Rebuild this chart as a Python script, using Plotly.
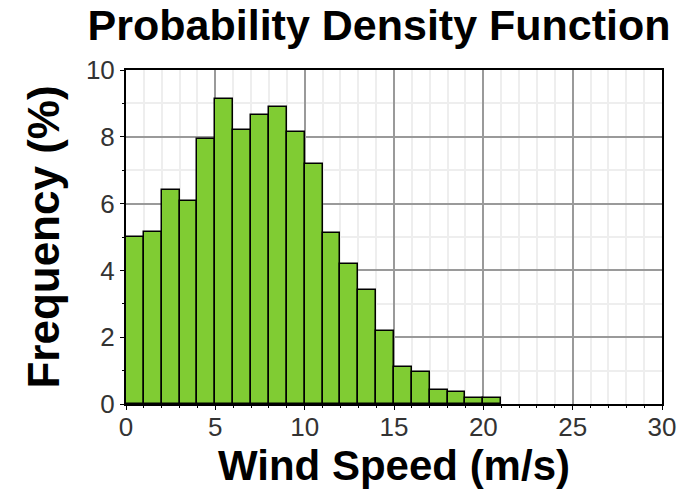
import plotly.graph_objects as go

bin_starts = list(range(0, 21))
frequency = [5.0, 5.15, 6.4, 6.08, 7.92, 9.14, 8.19, 8.64, 8.9, 8.14, 7.18,
             5.11, 4.19, 3.42, 2.18, 1.1, 0.97, 0.43, 0.37, 0.17, 0.17]
x_ticks = [0, 5, 10, 15, 20, 25, 30]
y_ticks = [0, 2, 4, 6, 8, 10]

fig = go.Figure()
fig.add_trace(go.Bar(
    x=[s + 0.5 for s in bin_starts],
    y=frequency,
    width=1,
    marker=dict(color="#80CC33", line=dict(color="#000000", width=1.5)),
))

fam = "Liberation Sans, Arial, sans-serif"
tickfont = dict(family=fam, size=26, color="#333333")

fig.update_layout(
    width=688, height=490,
    margin=dict(l=126, r=26, t=70, b=86),
    paper_bgcolor="#ffffff", plot_bgcolor="#ffffff",
    showlegend=False,
    bargap=0,
    title=dict(text="<b>Probability Density Function</b>",
               font=dict(family=fam, size=43, color="#000000"),
               x=0.551, xanchor="center", xref="container",
               y=1 - 25 / 490, yanchor="middle", yref="container"),
    xaxis=dict(
        range=[0, 30], tickvals=x_ticks, ticktext=[str(v) for v in x_ticks],
        automargin=False,
        showgrid=True, gridcolor="#9a9a9a", gridwidth=2,
        minor=dict(dtick=1, showgrid=True, gridcolor="#eeeeee", gridwidth=2,
                   ticks="outside", ticklen=2, tickcolor="#000000"),
        ticks="outside", ticklen=4, tickcolor="#000000", tickwidth=1,
        ticklabelstandoff=-5,
        showline=True, linecolor="#000000", linewidth=2, mirror=True,
        zeroline=False, tickfont=tickfont,
        title=dict(text="<b>Wind Speed (m/s)</b>",
                   font=dict(family=fam, size=42, color="#000000"), standoff=4),
    ),
    yaxis=dict(
        range=[0, 10], tickvals=y_ticks, ticktext=[str(v) for v in y_ticks],
        automargin=False,
        showgrid=True, gridcolor="#9a9a9a", gridwidth=2,
        minor=dict(dtick=1, showgrid=True, gridcolor="#eeeeee", gridwidth=2,
                   ticks="outside", ticklen=2, tickcolor="#000000"),
        ticks="outside", ticklen=4, tickcolor="#000000", tickwidth=1,
        showline=True, linecolor="#000000", linewidth=2, mirror=True,
        zeroline=False, tickfont=tickfont,
        title=dict(text="<b>Frequency (%)</b>",
                   font=dict(family=fam, size=44, color="#000000"), standoff=12),
    ),
)

fig.write_html("out.html",
               config={"displayModeBar": False},
               post_script="document.body.style.margin='0';document.body.style.padding='0';")
